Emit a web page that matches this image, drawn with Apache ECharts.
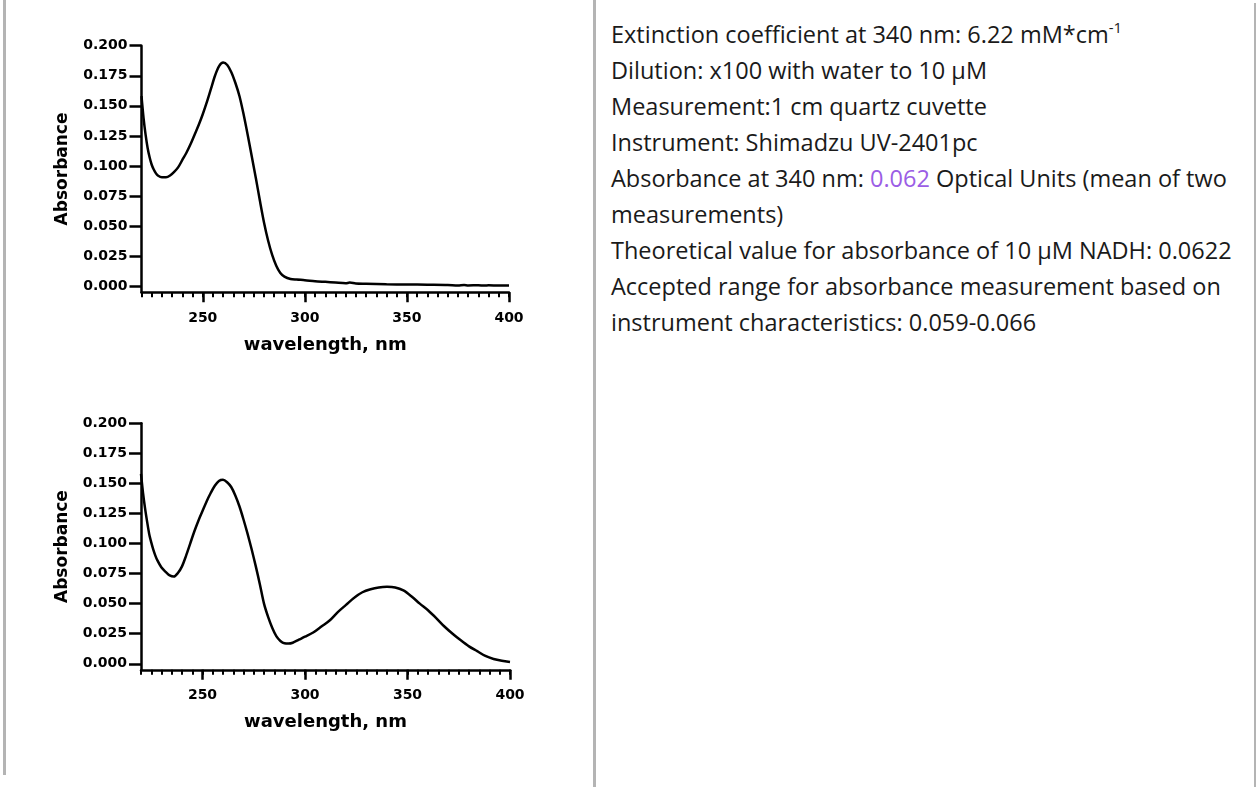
<!DOCTYPE html>
<html>
<head>
<meta charset="utf-8">
<title>NADH absorbance</title>
<script src="https://cdn.jsdelivr.net/npm/echarts@6/dist/echarts.min.js"></script>
<style>
    html, body { margin: 0; padding: 0; background: #fff; }
    body { width: 1257px; height: 787px; position: relative; overflow: hidden; }
    .vline { position: absolute; background: #b4b4b4; }
    #chart { position: absolute; left: 0; top: 0; width: 590px; height: 787px; }
    #notes {
        position: absolute; left: 611px; top: 16px; width: 640px;
        font-family: "Open Sans", sans-serif; font-size: 23.5px; line-height: 36px; color: #1a1a1a;
    }
    #notes p { margin: 0; }
    #notes sup { font-size: 15px; line-height: 0; vertical-align: 10px; }
    #notes .hl { color: #9b5de5; }
</style>
</head>
<body>
<div class="vline" style="left:3px;top:0;width:3px;height:775px"></div>
<div class="vline" style="left:593px;top:0;width:3px;height:787px"></div>
<div class="vline" style="left:1254px;top:3px;width:2px;height:784px"></div>
<div id="chart"></div>
<div id="notes">
    <p>Extinction coefficient at 340 nm: 6.22 mM*cm<sup>-1</sup></p>
    <p>Dilution: x100 with water to 10 µM</p>
    <p>Measurement:1 cm quartz cuvette</p>
    <p>Instrument: Shimadzu UV-2401pc</p>
    <p>Absorbance at 340 nm: <span class="hl">0.062</span> Optical Units (mean of two measurements)</p>
    <p>Theoretical value for absorbance of 10 µM NADH: 0.0622</p>
    <p>Accepted range for absorbance measurement based on instrument characteristics: 0.059-0.066</p>
</div>
<script>
// 上图: 光谱 1 (波长 nm / 吸光度)
var wl1 = [220, 221, 222, 223, 224, 225, 226, 227, 228, 230, 232, 234, 236, 238, 240, 242, 244, 246, 248,
    250, 252, 254, 256, 258, 260, 262, 264, 266, 268, 270, 272, 274, 276, 278, 280, 282, 284, 286, 288,
    290, 293, 296, 300, 305, 310, 315, 320, 322, 325, 330, 340, 350, 360, 370, 375, 378, 380, 385, 388, 390, 395, 400];
var abs1 = [0.158, 0.140, 0.126, 0.115, 0.107, 0.101, 0.097, 0.094, 0.092, 0.0905, 0.0905, 0.092, 0.095, 0.099, 0.105, 0.111, 0.118, 0.126, 0.134,
    0.143, 0.153, 0.164, 0.175, 0.183, 0.186, 0.184, 0.178, 0.169, 0.158, 0.143, 0.126, 0.108, 0.090, 0.071, 0.053, 0.038, 0.026, 0.017, 0.011,
    0.008, 0.006, 0.0055, 0.005, 0.0042, 0.0036, 0.003, 0.0024, 0.003, 0.0022, 0.002, 0.0016, 0.0014, 0.0012, 0.001, 0.0006, 0.0009, 0.0006, 0.0008, 0.0005, 0.0007, 0.0005, 0.0005];

// 下图: 光谱 2
var wl2 = [220, 221, 222, 223, 224, 225, 226, 227, 228, 230, 232, 234, 236, 238, 240, 242, 244, 246, 248,
    250, 252, 254, 256, 258, 260, 262, 264, 266, 268, 270, 272, 274, 276, 278, 280, 282, 284, 286, 288,
    290, 292, 294, 297, 300, 304, 308, 312, 316, 320, 324, 328, 332, 336, 340, 344, 348, 352, 356, 360,
    364, 368, 372, 376, 380, 384, 388, 392, 396, 400];
var abs2 = [0.158, 0.142, 0.129, 0.118, 0.108, 0.101, 0.095, 0.090, 0.086, 0.080, 0.0765, 0.0735, 0.0725, 0.0755, 0.081, 0.090, 0.100, 0.110, 0.119,
    0.127, 0.135, 0.142, 0.148, 0.152, 0.153, 0.151, 0.147, 0.140, 0.131, 0.120, 0.108, 0.095, 0.081, 0.066, 0.050, 0.039, 0.030, 0.023, 0.019,
    0.017, 0.0168, 0.0175, 0.020, 0.0225, 0.026, 0.031, 0.036, 0.043, 0.049, 0.055, 0.0595, 0.062, 0.0635, 0.064, 0.0635, 0.061, 0.056, 0.050, 0.0445,
    0.038, 0.031, 0.025, 0.0195, 0.0145, 0.0105, 0.0065, 0.004, 0.0025, 0.0015];

// 刻度
var xTicks = [250, 300, 350, 400];
var yTicks = [0, 0.025, 0.05, 0.075, 0.1, 0.125, 0.15, 0.175, 0.2];

(function(win){
    var FONT = 'DejaVu Sans';
    var AXIS_W = 2.5;

    function pairs(xs, ys){
        var out = [];
        for(var i = 0; i < xs.length; i++) out.push([xs[i], ys[i]]);
        return out;
    }

    // x 轴: 小刻度每 5 nm, 大刻度 + 标签在 xTicks
    function xAxes(grid){
        return [{
            type: 'value', gridIndex: grid, position: 'bottom', min: 220, max: 400, interval: 5,
            name: 'wavelength, nm', nameLocation: 'middle', nameGap: 44,
            nameTextStyle: { fontFamily: FONT, fontWeight: 'bold', fontSize: 18, color: '#000' },
            axisLine: { show: true, onZero: false, lineStyle: { color: '#000', width: AXIS_W } },
            axisTick: { show: true, length: 5, lineStyle: { color: '#000', width: 2 } },
            axisLabel: {
                customValues: xTicks, margin: 19,
                fontFamily: FONT, fontWeight: 'bold', fontSize: 14, color: '#000'
            },
            splitLine: { show: false }
        }, {
            type: 'value', gridIndex: grid, position: 'bottom', offset: 0, min: 220, max: 400,
            axisLine: { show: false, onZero: false },
            axisTick: { show: true, customValues: xTicks, length: 10, lineStyle: { color: '#000', width: AXIS_W } },
            axisLabel: { show: false },
            splitLine: { show: false }
        }];
    }

    function yAxis(grid){
        return {
            type: 'value', gridIndex: grid, position: 'left', min: -0.005, max: 0.2,
            name: 'Absorbance', nameLocation: 'middle', nameGap: 70,
            nameTextStyle: { fontFamily: FONT, fontWeight: 'bold', fontSize: 17, color: '#000' },
            axisLine: { show: true, onZero: false, lineStyle: { color: '#000', width: AXIS_W } },
            axisTick: { show: true, customValues: yTicks, length: 12, lineStyle: { color: '#000', width: AXIS_W } },
            axisLabel: {
                customValues: yTicks, margin: 14,
                fontFamily: FONT, fontWeight: 'bold', fontSize: 14, color: '#000',
                formatter: function(v){ return v.toFixed(3); }
            },
            splitLine: { show: false }
        };
    }

    function curve(xi, yi, data){
        return {
            type: 'line', xAxisIndex: xi, yAxisIndex: yi, data: data,
            smooth: 0.3, showSymbol: false, silent: true,
            lineStyle: { color: '#000', width: 2.5 }
        };
    }

    var chart = echarts.init(document.getElementById('chart'), null, { renderer: 'canvas' });
    chart.setOption({
        animation: false,
        grid: [
            { left: 141.5, top: 45.7, width: 367.5, height: 246.5 },
            { left: 141, top: 423.3, width: 369, height: 246.5 }
        ],
        xAxis: xAxes(0).concat(xAxes(1)),
        yAxis: [yAxis(0), yAxis(1)],
        series: [
            curve(0, 0, pairs(wl1, abs1)),
            curve(2, 1, pairs(wl2, abs2))
        ]
    });
})(window);
</script>
</body>
</html>
